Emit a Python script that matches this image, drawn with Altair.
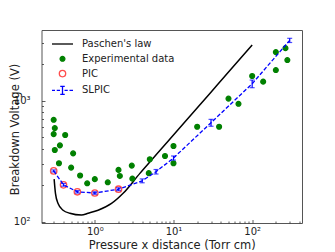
import altair as alt
import pandas as pd

# ---------------- data ----------------
paschen_pd = [0.304, 0.316, 0.341, 0.395, 0.481, 0.677, 0.822, 1.1, 1.63, 2.29, 3.74, 6.71, 12.1, 29, 52, 100]
paschen_v = [224, 171, 141, 124, 117, 113, 117, 124, 141, 171, 250, 386, 598, 1146, 1770, 2876]

exp_pd = [0.3, 0.3, 0.31, 0.31, 0.36, 0.35, 0.42, 0.53, 0.5, 0.65, 0.8, 1.0, 1.46, 2.0, 2.08,
          2.95, 3.0, 5.0, 4.85, 7.8, 10, 10, 20, 38, 50, 67, 100, 138, 200, 200, 265, 280]
exp_v = [528, 693, 592, 390, 426, 303, 519, 366, 279, 240, 207, 224, 211, 267, 238,
         290, 226, 327, 251, 348, 421, 303, 607, 607, 1038, 940, 1596, 1433, 2514, 1787, 2712, 2161]

pic_pd = [0.3, 0.4, 0.6, 1.0, 2.0]
pic_v = [262, 201, 176, 172, 185]

slpic_pd = [0.3, 0.4, 0.6, 1, 2, 4, 6, 10, 30, 100, 300]
slpic_v = [262, 201, 176, 172, 185, 217, 258, 335, 656, 1377, 3144]
slpic_err = [5, 5, 4, 4, 5, 8, 11, 13, 43, 100, 125]

series = ["Paschen's law", "Experimental data", "PIC", "SLPIC"]
x_ticks = [0.3, 0.4, 0.5, 0.6, 0.7, 0.8, 0.9, 1, 2, 3, 4, 5, 6, 7, 8, 9,
           10, 20, 30, 40, 50, 60, 70, 80, 90, 100, 200, 300, 400]
y_ticks = [100, 200, 300, 400, 500, 600, 700, 800, 900, 1000, 2000, 3000]

# ---------------- styles ----------------
series_colors = ["black", "#008000", "#ff4d4d", "#0000ff"]
series_fills = ["transparent", "#008000", "transparent", "transparent"]
series_shapes = [
    "M-2.1,0H2.1",
    "M0.48,0A0.48,0.48,0,1,1,-0.48,0A0.48,0.48,0,1,1,0.48,0Z",
    "M0.64,0A0.64,0.64,0,1,1,-0.64,0A0.64,0.64,0,1,1,0.64,0Z",
    "M-2.1,0H-1.5M-1.15,0H-0.5M0.4,0H1.05M1.4,0H2.1M0,-0.8V0.8M-0.45,-0.8H0.45M-0.45,0.8H0.45",
]

paschen_df = pd.DataFrame({"pd": paschen_pd, "V": paschen_v})
pts_df = pd.concat([
    pd.DataFrame({"pd": exp_pd, "V": exp_v, "series": series[1]}),
    pd.DataFrame({"pd": pic_pd, "V": pic_v, "series": series[2]}),
], ignore_index=True)
slpic_df = pd.DataFrame({
    "pd": slpic_pd, "V": slpic_v,
    "lo": [v - e for v, e in zip(slpic_v, slpic_err)],
    "hi": [v + e for v, e in zip(slpic_v, slpic_err)],
})

x_scale = alt.Scale(type="log", domain=[0.21, 430], nice=False)
y_scale = alt.Scale(type="log", domain=[97.2, 3830], nice=False)

x_axis = alt.Axis(
    values=x_ticks,
    labelExpr="datum.value == 1 ? '10⁰' : datum.value == 10 ? '10¹' : datum.value == 100 ? '10²' : ''",
    tickSize={"expr": "indexof([1,10,100], datum.value) >= 0 ? -3.5 : -2"},
    labelPadding=6.5,
    title="Pressure x distance (Torr cm)",
    titleY=25, titleBaseline="alphabetic",
    grid=False, domain=False, labelFlush=False, labelOverlap=False,
)
y_axis = alt.Axis(
    values=y_ticks,
    labelExpr="datum.value == 100 ? '10²' : datum.value == 1000 ? '10³' : ''",
    tickSize={"expr": "indexof([100,1000], datum.value) >= 0 ? -3.5 : -2"},
    labelPadding=15,
    title="Breakdown Voltage (V)",
    titleX=-23.5, titleY=99, titleBaseline="alphabetic",
    grid=False, domain=False, labelOverlap=False,
)

x_enc = alt.X("pd:Q", scale=x_scale, axis=x_axis)
y_enc = alt.Y("V:Q", scale=y_scale, axis=y_axis)

legend = alt.Legend(title=None, orient="none", legendX=15, legendY=8)

paschen = alt.Chart(paschen_df).mark_line(color="black", strokeWidth=1.5, interpolate="monotone").encode(
    x=x_enc, y=y_enc)

points = alt.Chart(pts_df).mark_point(size=100, strokeWidth=1.3, opacity=1).encode(
    x="pd:Q", y="V:Q",
    shape=alt.Shape("series:N", scale=alt.Scale(domain=series, range=series_shapes), legend=legend),
    stroke=alt.Stroke("series:N", scale=alt.Scale(domain=series, range=series_colors), legend=legend),
    fill=alt.Fill("series:N", scale=alt.Scale(domain=series, range=series_fills), legend=legend),
)

slpic_line = alt.Chart(slpic_df).mark_line(color="#0000ff", strokeWidth=1.3, strokeDash=[4, 2]).encode(
    x="pd:Q", y="V:Q")
slpic_bars = alt.Chart(slpic_df).mark_rule(color="#0000ff", strokeWidth=1.2).encode(
    x="pd:Q", y="lo:Q", y2="hi:Q")
slpic_cap_lo = alt.Chart(slpic_df).mark_tick(color="#0000ff", orient="horizontal", size=5, thickness=1.2).encode(
    x="pd:Q", y="lo:Q")
slpic_cap_hi = alt.Chart(slpic_df).mark_tick(color="#0000ff", orient="horizontal", size=5, thickness=1.2).encode(
    x="pd:Q", y="hi:Q")

chart = alt.layer(paschen, points, slpic_line, slpic_bars, slpic_cap_lo, slpic_cap_hi).properties(
    width=260.5, height=193,
    autosize=alt.AutoSizeParams(type="none"),
    padding={"left": 33.5, "top": 22, "right": 25, "bottom": 29},
).configure_view(
    stroke="#555", strokeWidth=1,
).configure_axis(
    labelFont="DejaVu Sans", titleFont="DejaVu Sans",
    labelFontSize=10, titleFontSize=11.5, titleFontWeight="normal",
    labelColor="#222", titleColor="#222", tickColor="#333", tickWidth=0.8,
).configure_legend(
    labelFont="DejaVu Sans", labelFontSize=10, labelColor="#222",
    symbolSize=100, symbolStrokeWidth=1.3, labelOffset=13.5,
    rowPadding=3.8, padding=0,
)

chart.save("out.html", embed_options={"renderer": "svg", "actions": False})
